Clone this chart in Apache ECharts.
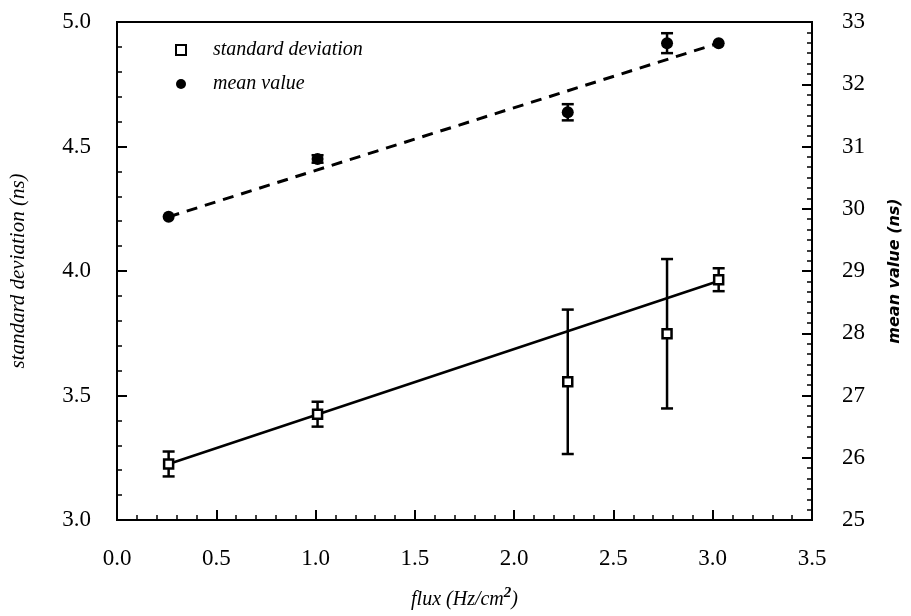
<!DOCTYPE html>
<html lang="en">
<head>
  <meta charset="UTF-8">
  <title>standard deviation and mean value vs flux</title>
  <script src="https://cdn.jsdelivr.net/npm/echarts@6/dist/echarts.min.js"></script>
</head>
<body style="margin:0;background:#fff;">
  <div id="main" style="width:911px;height:616px;"></div>
</body>
</html>
<script>
  // flux points (Hz/cm2)
  const flux = [0.26, 1.01, 2.27, 2.77, 3.03];
  // standard deviation (ns) and its error
  const stdDev = [3.225, 3.425, 3.555, 3.748, 3.965];
  const stdErr = [0.05, 0.05, 0.29, 0.30, 0.046];
  // mean value (ns) and its error
  const meanVal = [29.87, 30.80, 31.55, 32.66, 32.66];
  const meanErr = [0, 0.06, 0.13, 0.16, 0];
  // fitted lines (end points)
  const fitX = [0.26, 3.03];
  const fitStd = [3.225, 3.96];
  const fitMean = [29.87, 32.66];

  const serif = "'Liberation Serif', 'DejaVu Serif', serif";

  function errorBar(params, api) {
    const x = api.value(0);
    const lo = api.coord([x, api.value(1)]);
    const hi = api.coord([x, api.value(2)]);
    if (Math.abs(lo[1] - hi[1]) < 1) return;
    const w = 6;
    const style = { stroke: '#000', lineWidth: 2.5 };
    return {
      type: 'group',
      children: [
        { type: 'line', shape: { x1: lo[0], y1: lo[1], x2: hi[0], y2: hi[1] }, style: style },
        { type: 'line', shape: { x1: lo[0] - w, y1: lo[1], x2: lo[0] + w, y2: lo[1] }, style: style },
        { type: 'line', shape: { x1: hi[0] - w, y1: hi[1], x2: hi[0] + w, y2: hi[1] }, style: style }
      ]
    };
  }

  let myChart = echarts.init(document.getElementById('main'));

  const tickLine = { color: '#000', width: 2 };
  const minorLine = { color: '#000', width: 1.5 };

  let option = {
    backgroundColor: '#fff',
    animation: false,
    grid: {
      left: 117, right: 98, top: 22, bottom: 96,
      show: true, borderColor: '#000', borderWidth: 2, backgroundColor: 'transparent'
    },
    legend: {
      orient: 'vertical',
      left: 170,
      top: 35,
      itemGap: 14,
      itemWidth: 10,
      itemHeight: 10,
      data: ['standard deviation', 'mean value'],
      textStyle: { fontFamily: serif, fontStyle: 'italic', fontSize: 20, color: '#000', padding: [0, 0, 0, 22] }
    },
    xAxis: {
      type: 'value',
      min: 0, max: 3.5, interval: 0.5,
      name: '{i|flux (Hz/cm}{sup|2}{i|)}',
      nameLocation: 'middle',
      nameGap: 66,
      nameTextStyle: {
        rich: {
          i: { fontFamily: serif, fontStyle: 'italic', fontSize: 20, color: '#000' },
          sup: { fontFamily: serif, fontStyle: 'italic', fontWeight: 'bold', fontSize: 15, color: '#000', padding: [0, 0, 12, 0] }
        }
      },
      axisLine: { lineStyle: { color: '#000', width: 2 } },
      axisTick: { inside: true, length: 10, lineStyle: tickLine },
      minorTick: { show: true, splitNumber: 5, length: 5, lineStyle: minorLine },
      splitLine: { show: false },
      axisLabel: {
        margin: 27, fontFamily: serif, fontSize: 23, color: '#000',
        formatter: v => v.toFixed(1)
      }
    },
    yAxis: [{
      type: 'value',
      min: 3, max: 5, interval: 0.5,
      name: 'standard deviation (ns)',
      nameLocation: 'middle',
      nameRotate: 90,
      nameGap: 88,
      nameTextStyle: { fontFamily: serif, fontStyle: 'italic', fontSize: 21, color: '#000' },
      axisLine: { lineStyle: { color: '#000', width: 2 } },
      axisTick: { inside: true, length: 10, lineStyle: tickLine },
      minorTick: { show: true, splitNumber: 5, length: 5, lineStyle: minorLine },
      splitLine: { show: false },
      axisLabel: {
        margin: 26, fontFamily: serif, fontSize: 23, color: '#000',
        formatter: v => v.toFixed(1)
      }
    }, {
      type: 'value',
      min: 25, max: 33, interval: 1,
      position: 'right',
      name: 'mean value (ns)',
      nameLocation: 'middle',
      nameRotate: 90,
      nameGap: 75,
      nameTextStyle: { fontFamily: "'DejaVu Sans', sans-serif", fontStyle: 'italic', fontWeight: 'bold', fontSize: 16, color: '#000' },
      axisLine: { lineStyle: { color: '#000', width: 2 } },
      axisTick: { inside: true, length: 10, lineStyle: tickLine },
      minorTick: { show: true, splitNumber: 6, length: 5, lineStyle: minorLine },
      splitLine: { show: false },
      axisLabel: { margin: 30, fontFamily: serif, fontSize: 23, color: '#000' }
    }],
    series: [{
      type: 'line',
      data: fitX.map((x, i) => [x, fitStd[i]]),
      showSymbol: false,
      silent: true,
      lineStyle: { color: '#000', width: 2.5 },
      z: 2
    }, {
      type: 'line',
      yAxisIndex: 1,
      data: fitX.map((x, i) => [x, fitMean[i]]),
      showSymbol: false,
      silent: true,
      lineStyle: { color: '#000', width: 3, type: [11, 8] },
      z: 2
    }, {
      type: 'custom',
      renderItem: errorBar,
      data: flux.map((x, i) => [x, stdDev[i] - stdErr[i], stdDev[i] + stdErr[i]]),
      z: 3
    }, {
      type: 'custom',
      yAxisIndex: 1,
      renderItem: errorBar,
      data: flux.map((x, i) => [x, meanVal[i] - meanErr[i], meanVal[i] + meanErr[i]]),
      z: 3
    }, {
      name: 'standard deviation',
      type: 'scatter',
      symbol: 'rect',
      symbolSize: 9,
      data: flux.map((x, i) => [x, stdDev[i]]),
      itemStyle: { color: '#fff', borderColor: '#000', borderWidth: 2.5, opacity: 1 },
      z: 4
    }, {
      name: 'mean value',
      type: 'scatter',
      yAxisIndex: 1,
      symbol: 'circle',
      symbolSize: 12,
      data: flux.map((x, i) => [x, meanVal[i]]),
      itemStyle: { color: '#000', opacity: 1 },
      z: 4
    }]
  };
  myChart.setOption(option, true);
</script>
